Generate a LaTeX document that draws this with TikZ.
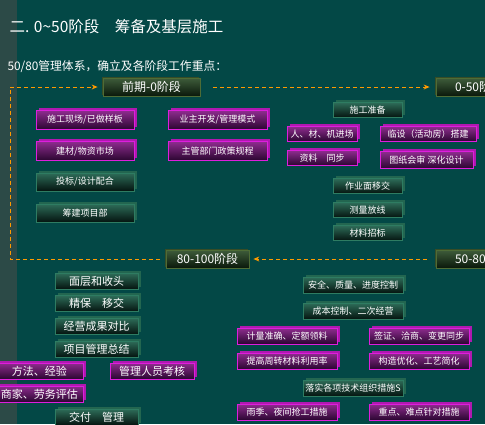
\documentclass[tikz,border=0pt]{standalone}
\usepackage{fontspec}
\setmainfont{Noto Sans CJK SC}
\usepackage{xcolor}
\usetikzlibrary{positioning, arrows.meta, shadows}

\definecolor{bgteal}{HTML}{034846}
\definecolor{stripgray}{HTML}{2C4A47}
\definecolor{arrorange}{HTML}{FF9A00}
\definecolor{magedge}{HTML}{DD1EDD}
\definecolor{magside}{HTML}{B018B0}
\definecolor{magtop}{HTML}{8E2C8E}
\definecolor{magbot}{HTML}{2A0630}
\definecolor{grnedge}{HTML}{2E7C62}
\definecolor{grnside}{HTML}{236650}
\definecolor{grntop}{HTML}{2D6C58}
\definecolor{grnbot}{HTML}{051410}
\definecolor{stgedge}{HTML}{4E6C36}
\definecolor{stgtop}{HTML}{3E5C3A}
\definecolor{stgbot}{HTML}{0A180B}

\begin{document}
\begin{tikzpicture}[x=1pt, y=-1pt,
    box/.style = {
        rectangle, inner sep=0pt, minimum height=16pt, line width=0.8pt,
        align=center, font=\fontsize{9}{10}\selectfont, text=white
    },
    magbox/.style = {
        box, draw=magedge, top color=magtop, bottom color=magbot,
        general shadow={fill=magside, shadow xshift=2.5pt, shadow yshift=2.5pt}
    },
    grnbox/.style = {
        box, draw=grnedge, top color=grntop, bottom color=grnbot,
        general shadow={fill=grnside, shadow xshift=2.5pt, shadow yshift=2.5pt}
    },
    stagebox/.style = {
        box, draw=stgedge, top color=stgtop, bottom color=stgbot,
        minimum width=97pt, minimum height=18pt, font=\fontsize{12}{14}\selectfont,
        general shadow={fill=stgedge!70!black, shadow xshift=-1.5pt, shadow yshift=1.5pt}
    },
    edgestage/.style = {stagebox, text width=59pt, align=left},
    big/.style = {font=\fontsize{11}{13}\selectfont},
    arrow/.style = {
        -{Stealth[length=6pt, width=5pt]}, dash pattern=on 4pt off 3pt,
        line width=0.9pt, color=arrorange
    }
]

% Background and frame
\useasboundingbox (0,0) rectangle (485,424);
\fill[bgteal] (0,0) rectangle (485,424);
\fill[stripgray] (0,0) rectangle (17,424);
\clip (0,0) rectangle (485,424);

% Heading
\node[anchor=west, text=white, font=\fontsize{15.5}{18}\selectfont] (title) at (6,27)
    {二. 0\textasciitilde50阶段\quad 筹备及基层施工};
\node[anchor=west, text=white, font=\fontsize{11.8}{14}\selectfont] (sub) at (4,67)
    {50/80管理体系，确立及各阶段工作重点：};

% Stages
\node[stagebox]                        (pre)   at (151.5,87)  {前期-0阶段};
\node[edgestage]                       (s050)  at (484.5,87)  {0-50阶段};
\node[stagebox, minimum width=83pt]    (s80)   at (207.5,259) {80-100阶段};
\node[edgestage]                       (s5080) at (484.5,259) {50-80阶段};

% Before 0 ── preparation
\node[magbox, minimum width=98pt, minimum height=19pt] (site)   at (85,120)    {施工现场/已做样板};
\node[magbox, minimum width=98pt, minimum height=19pt] (market) at (85,151)    {建材/物资市场};
\node[grnbox, minimum width=98pt, minimum height=18pt] (bid)    at (85,182)    {投标/设计配合};
\node[grnbox, minimum width=98pt, minimum height=18pt] (dept)   at (85,213)    {筹建项目部};
\node[magbox, minimum width=99pt, minimum height=19pt] (owner)  at (217.5,120) {业主开发/管理模式};
\node[magbox, minimum width=99pt, minimum height=19pt] (policy) at (217.5,151) {主管部门政策规程};

% 0-50 ── start of works
\node[grnbox, minimum width=69pt, minimum height=15pt] (prep)   at (367.5,110) {施工准备};
\node[magbox, minimum width=70pt, minimum height=15pt] (enter)  at (322,134)   {人、材、机进场};
\node[magbox, minimum width=96pt, minimum height=15pt] (temp)   at (428,134)   {临设（活动房）搭建};
\node[magbox, minimum width=70pt, minimum height=15pt] (docs)   at (322,158)   {资料\quad 同步};
\node[magbox, minimum width=93pt, minimum height=17pt] (review) at (426.5,160) {图纸会审 深化设计};
\node[grnbox, minimum width=69pt, minimum height=15pt] (hand)   at (367.5,186) {作业面移交};
\node[grnbox, minimum width=69pt, minimum height=15pt] (survey) at (367.5,210) {测量放线};
\node[grnbox, minimum width=69pt, minimum height=15pt] (tender) at (367.5,233) {材料招标};

% 80-100 ── finishing
\node[grnbox, big, minimum width=83pt] (finish)  at (96.5,281)   {面层和收头};
\node[grnbox, big, minimum width=83pt] (protect) at (96.5,303.5) {精保\quad 移交};
\node[grnbox, big, minimum width=83pt] (result)  at (96.5,326)   {经营成果对比};
\node[grnbox, big, minimum width=83pt] (summary) at (96.5,349)   {项目管理总结};
\node[magbox, big, minimum width=87pt] (method)  at (39.5,371)   {方法、经验};
\node[magbox, big, minimum width=87pt] (vendor)  at (39.5,394)   {商家、劳务评估};
\node[magbox, big, minimum width=84pt] (staff)   at (152,371)    {管理人员考核};
\node[grnbox, big, minimum width=83pt] (deliver) at (96.5,417)   {交付\quad 管理};

% 50-80 ── control
\node[grnbox, minimum width=100pt] (safety)  at (353,285) {安全、质量、进度控制};
\node[grnbox, minimum width=100pt] (cost)    at (353,311) {成本控制、二次经营};
\node[magbox, minimum width=100pt] (measure) at (287,336) {计量准确、定额领料};
\node[magbox, minimum width=100pt] (visa)    at (419,336) {签证、洽商、变更同步};
\node[magbox, minimum width=100pt] (reuse)   at (287,361) {提高周转材料利用率};
\node[magbox, minimum width=100pt] (optim)   at (419,361) {构造优化、工艺简化};
\node[grnbox, minimum width=100pt] (tech)    at (353,388) {落实各项技术组织措施S};
\node[magbox, minimum width=100pt] (rain)    at (287,412) {雨季、夜间抢工措施};
\node[magbox, minimum width=100pt] (focus)   at (419,412) {重点、难点针对措施};

% Stage flow
\coordinate (lturn) at (10,259);
\draw[arrow, shorten <=13pt, shorten >=6pt] (pre.east) -- (s050.west);
\draw[arrow, shorten <=9pt, shorten >=4pt] (s5080.west) -- (s80.east);
\draw[arrow, shorten <=6pt, shorten >=5pt] (s80.west) -- (lturn) |- (pre.west);

\end{tikzpicture}
\end{document}
